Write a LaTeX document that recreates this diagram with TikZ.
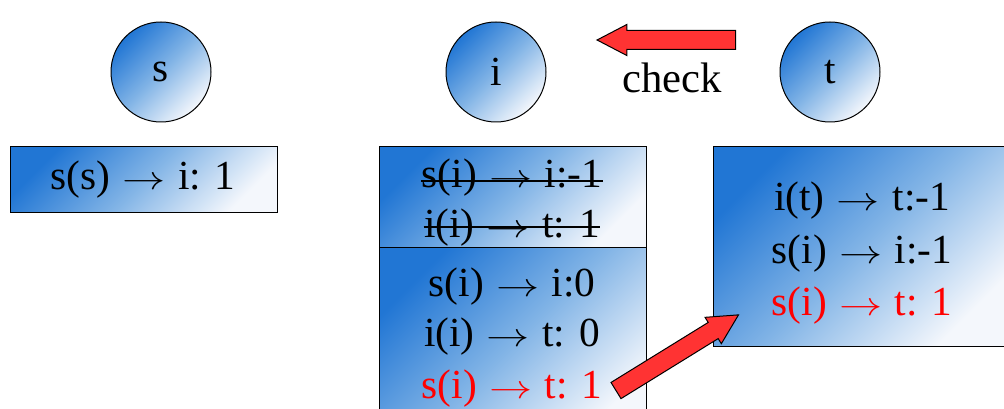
\documentclass[tikz,border=0pt]{standalone}
\usepackage{fontspec}
\usepackage{graphicx}
\setmainfont{Liberation Serif}
\usetikzlibrary{shapes.arrows}

\definecolor{gradDark}{RGB}{33,118,212}
\definecolor{gradMid}{RGB}{130,180,230}
\definecolor{gradLight}{RGB}{244,247,252}
\definecolor{arrowRed}{RGB}{255,51,51}

\newcommand{\goesto}{\hspace{0.3em}\scalebox{1.3}[1]{$\rightarrow$}\hspace{0.3em}}

\tikzset{every picture/.style={line width=0.75pt}}
\tikzset{
  blueshade/.style={draw=black, top color=gradDark, bottom color=gradLight, middle color=gradMid, shading angle=45},
  vertex/.style={blueshade, circle, minimum size=75pt, inner sep=0pt, font=\fontsize{31}{37}\selectfont},
  tablebox/.style={blueshade, rectangle, inner sep=0pt},
  rowtext/.style={inner sep=0pt, font=\fontsize{31}{37}\selectfont},
  bigarrow/.style={single arrow, draw=black, fill=arrowRed, inner xsep=0pt, inner ysep=6.75pt, single arrow head extend=4.5pt, single arrow tip angle=55},
  strike/.style={line width=1.5pt}
}

\begin{document}
\begin{tikzpicture}[x=0.75pt,y=0.75pt,yscale=-1,xscale=1]
\useasboundingbox (0,0) rectangle (1004,409);
\clip (0,0) rectangle (1004,409);

%Shape: Circle [s]
\node[vertex] (s) at (161,72) {s};
%Shape: Circle [i]
\node[vertex] (i) at (496,72) {i};
%Shape: Circle [t]
\node[vertex] (t) at (830,72) {t};

%Shape: Right Arrow [check]
\node[bigarrow, minimum height=104pt, shape border rotate=180] (chk) at (675.5,40) {};
% Text Node
\node[rowtext, font=\fontsize{32}{38}\selectfont] (chklabel) at (672,78) {check};

%Shape: Rectangle [table of s]
\node[tablebox, minimum width=200.25pt, minimum height=49.5pt] (sbox) at (143.5,180) {};
% Text Node
\node[rowtext] (s1) at (143,180) {s(s)\goesto i: 1};

%Shape: Rectangle [old table of i]
\node[tablebox, minimum width=200.25pt, minimum height=75.75pt] (itop) at (512.5,197.5) {};
%Shape: Rectangle [new table of i]
\node[tablebox, minimum width=200.25pt, minimum height=144pt] (ibot) at (512.5,344) {};
% Text Node
\node[rowtext] (i1) at (512,178) {s(i)\goesto i:-1};
\node[rowtext] (i2) at (512,228) {i(i)\goesto t: 1};
\draw[strike] ([yshift=2pt]i1.west) -- ([yshift=2pt]i1.east);
\draw[strike] ([yshift=-1pt]i2.west) -- ([yshift=-1pt]i2.east);
% Text Node
\node[rowtext] (i3) at (512,287) {s(i)\goesto i:0};
\node[rowtext] (i4) at (512,337) {i(i)\goesto t: 0};
\node[rowtext, text=red] (i5) at (512,389) {s(i)\goesto t: 1};

%Shape: Rectangle [table of t]
\node[tablebox, minimum width=222.75pt, minimum height=150pt] (tbox) at (861.5,247) {};
% Text Node
\node[rowtext] (t1) at (862,201) {i(t)\goesto t:-1};
\node[rowtext] (t2) at (862,254) {s(i)\goesto i:-1};
\node[rowtext, text=red] (t3) at (862,306) {s(i)\goesto t: 1};

%Shape: Right Arrow [send]
\node[bigarrow, minimum height=108pt, rotate=31.7] (send) at (669.5,357.5) {};

\end{tikzpicture}
\end{document}
